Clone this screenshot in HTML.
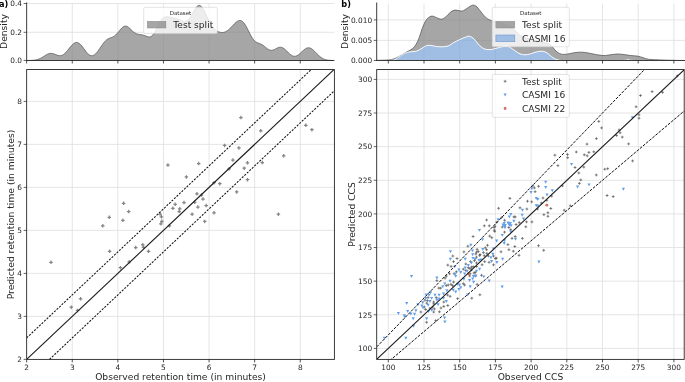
<!DOCTYPE html>
<html lang="en"><head><meta charset="utf-8"><title>Predicted vs observed retention time and CCS</title>
<style>html,body{margin:0;padding:0;background:#fff;overflow:hidden}svg{display:block;will-change:transform;opacity:0.999}</style>
</head><body>
<svg width="685" height="382" viewBox="0 0 685 382" font-family="'DejaVu Sans', 'Liberation Sans', sans-serif">
<rect width="685" height="382" fill="#ffffff"/>
<defs>
<clipPath id="ca"><rect x="26.65" y="69.55" width="307.75" height="289.85"/></clipPath>
<clipPath id="cb"><rect x="376.7" y="69.55" width="307.5" height="289.85"/></clipPath>
<g id="mp"><path d="M-1.75,0H1.75M0,-1.75V1.75" stroke="#858585" stroke-width="1.25" fill="none"/></g>
<g id="mq"><path d="M-1.4,0H1.4M0,-1.4V1.4" stroke="#585858" stroke-width="0.72" fill="none"/></g>
<path id="mv" d="M-1.6,-1.3H1.6L0,1.65Z" fill="#639fe6"/>
<circle id="mo" r="1.4" fill="#d46c62"/>
</defs>
<g id="panel-a">
<line x1="72.25" y1="69.55" x2="72.25" y2="359.4" stroke="#dedede" stroke-width="0.8" />
<line x1="72.25" y1="3.5" x2="72.25" y2="60.5" stroke="#dedede" stroke-width="0.8" />
<line x1="117.85" y1="69.55" x2="117.85" y2="359.4" stroke="#dedede" stroke-width="0.8" />
<line x1="117.85" y1="3.5" x2="117.85" y2="60.5" stroke="#dedede" stroke-width="0.8" />
<line x1="163.45" y1="69.55" x2="163.45" y2="359.4" stroke="#dedede" stroke-width="0.8" />
<line x1="163.45" y1="3.5" x2="163.45" y2="60.5" stroke="#dedede" stroke-width="0.8" />
<line x1="209.05" y1="69.55" x2="209.05" y2="359.4" stroke="#dedede" stroke-width="0.8" />
<line x1="209.05" y1="3.5" x2="209.05" y2="60.5" stroke="#dedede" stroke-width="0.8" />
<line x1="254.65" y1="69.55" x2="254.65" y2="359.4" stroke="#dedede" stroke-width="0.8" />
<line x1="254.65" y1="3.5" x2="254.65" y2="60.5" stroke="#dedede" stroke-width="0.8" />
<line x1="300.25" y1="69.55" x2="300.25" y2="359.4" stroke="#dedede" stroke-width="0.8" />
<line x1="300.25" y1="3.5" x2="300.25" y2="60.5" stroke="#dedede" stroke-width="0.8" />
<line x1="26.65" y1="316.4" x2="334.4" y2="316.4" stroke="#dedede" stroke-width="0.8" />
<line x1="26.65" y1="273.4" x2="334.4" y2="273.4" stroke="#dedede" stroke-width="0.8" />
<line x1="26.65" y1="230.4" x2="334.4" y2="230.4" stroke="#dedede" stroke-width="0.8" />
<line x1="26.65" y1="187.4" x2="334.4" y2="187.4" stroke="#dedede" stroke-width="0.8" />
<line x1="26.65" y1="144.4" x2="334.4" y2="144.4" stroke="#dedede" stroke-width="0.8" />
<line x1="26.65" y1="101.4" x2="334.4" y2="101.4" stroke="#dedede" stroke-width="0.8" />
<line x1="26.65" y1="3.5" x2="334.4" y2="3.5" stroke="#dedede" stroke-width="0.8" />
<line x1="26.65" y1="32.3" x2="334.4" y2="32.3" stroke="#dedede" stroke-width="0.8" />
<path d="M26.65,60.49 L27.65,60.48 L28.65,60.47 L29.65,60.45 L30.65,60.42 L31.65,60.38 L32.65,60.32 L33.65,60.23 L34.65,60.11 L35.65,59.94 L36.65,59.73 L37.65,59.45 L38.65,59.11 L39.65,58.7 L40.65,58.22 L41.65,57.68 L42.65,57.09 L43.65,56.46 L44.65,55.82 L45.65,55.19 L46.65,54.62 L47.65,54.13 L48.65,53.74 L49.65,53.49 L50.65,53.37 L51.65,53.4 L52.65,53.57 L53.65,53.84 L54.65,54.2 L55.65,54.59 L56.65,54.98 L57.65,55.32 L58.65,55.57 L59.65,55.68 L60.65,55.64 L61.65,55.41 L62.65,54.99 L63.65,54.38 L64.65,53.58 L65.65,52.62 L66.65,51.53 L67.65,50.34 L68.65,49.08 L69.65,47.82 L70.65,46.59 L71.65,45.44 L72.65,44.42 L73.65,43.58 L74.65,42.95 L75.65,42.57 L76.65,42.46 L77.65,42.62 L78.65,43.07 L79.65,43.77 L80.65,44.71 L81.65,45.84 L82.65,47.11 L83.65,48.47 L84.65,49.85 L85.65,51.19 L86.65,52.43 L87.65,53.53 L88.65,54.44 L89.65,55.12 L90.65,55.56 L91.65,55.73 L92.65,55.63 L93.65,55.27 L94.65,54.66 L95.65,53.81 L96.65,52.75 L97.65,51.52 L98.65,50.15 L99.65,48.69 L100.65,47.19 L101.65,45.69 L102.65,44.24 L103.65,42.9 L104.65,41.7 L105.65,40.67 L106.65,39.81 L107.65,39.12 L108.65,38.59 L109.65,38.17 L110.65,37.81 L111.65,37.46 L112.65,37.05 L113.65,36.54 L114.65,35.88 L115.65,35.05 L116.65,34.06 L117.65,32.93 L118.65,31.7 L119.65,30.45 L120.65,29.24 L121.65,28.14 L122.65,27.24 L123.65,26.57 L124.65,26.19 L125.65,26.11 L126.65,26.31 L127.65,26.78 L128.65,27.47 L129.65,28.32 L130.65,29.27 L131.65,30.24 L132.65,31.18 L133.65,32.04 L134.65,32.78 L135.65,33.37 L136.65,33.82 L137.65,34.13 L138.65,34.34 L139.65,34.49 L140.65,34.62 L141.65,34.77 L142.65,34.98 L143.65,35.25 L144.65,35.59 L145.65,35.98 L146.65,36.37 L147.65,36.71 L148.65,36.92 L149.65,36.94 L150.65,36.69 L151.65,36.13 L152.65,35.22 L153.65,33.98 L154.65,32.42 L155.65,30.62 L156.65,28.64 L157.65,26.6 L158.65,24.58 L159.65,22.69 L160.65,21.01 L161.65,19.59 L162.65,18.47 L163.65,17.65 L164.65,17.11 L165.65,16.81 L166.65,16.71 L167.65,16.76 L168.65,16.9 L169.65,17.1 L170.65,17.32 L171.65,17.55 L172.65,17.78 L173.65,18.01 L174.65,18.25 L175.65,18.53 L176.65,18.84 L177.65,19.19 L178.65,19.59 L179.65,20.02 L180.65,20.46 L181.65,20.88 L182.65,21.23 L183.65,21.47 L184.65,21.55 L185.65,21.42 L186.65,21.03 L187.65,20.36 L188.65,19.4 L189.65,18.15 L190.65,16.66 L191.65,14.97 L192.65,13.17 L193.65,11.35 L194.65,9.62 L195.65,8.06 L196.65,6.8 L197.65,5.9 L198.65,5.42 L199.65,5.41 L200.65,5.88 L201.65,6.8 L202.65,8.13 L203.65,9.8 L204.65,11.74 L205.65,13.84 L206.65,16.02 L207.65,18.19 L208.65,20.28 L209.65,22.24 L210.65,24.02 L211.65,25.6 L212.65,26.99 L213.65,28.18 L214.65,29.2 L215.65,30.06 L216.65,30.77 L217.65,31.36 L218.65,31.82 L219.65,32.18 L220.65,32.41 L221.65,32.53 L222.65,32.52 L223.65,32.38 L224.65,32.11 L225.65,31.7 L226.65,31.16 L227.65,30.48 L228.65,29.69 L229.65,28.79 L230.65,27.81 L231.65,26.77 L232.65,25.69 L233.65,24.62 L234.65,23.58 L235.65,22.62 L236.65,21.79 L237.65,21.13 L238.65,20.67 L239.65,20.47 L240.65,20.55 L241.65,20.93 L242.65,21.64 L243.65,22.66 L244.65,23.98 L245.65,25.56 L246.65,27.36 L247.65,29.31 L248.65,31.33 L249.65,33.34 L250.65,35.26 L251.65,37.03 L252.65,38.58 L253.65,39.89 L254.65,40.94 L255.65,41.76 L256.65,42.37 L257.65,42.84 L258.65,43.22 L259.65,43.59 L260.65,44 L261.65,44.49 L262.65,45.08 L263.65,45.78 L264.65,46.56 L265.65,47.38 L266.65,48.19 L267.65,48.93 L268.65,49.55 L269.65,50 L270.65,50.26 L271.65,50.31 L272.65,50.17 L273.65,49.85 L274.65,49.41 L275.65,48.89 L276.65,48.36 L277.65,47.87 L278.65,47.49 L279.65,47.27 L280.65,47.23 L281.65,47.4 L282.65,47.78 L283.65,48.36 L284.65,49.12 L285.65,50 L286.65,50.97 L287.65,51.98 L288.65,52.98 L289.65,53.91 L290.65,54.73 L291.65,55.4 L292.65,55.9 L293.65,56.2 L294.65,56.29 L295.65,56.18 L296.65,55.85 L297.65,55.34 L298.65,54.67 L299.65,53.86 L300.65,52.96 L301.65,52.01 L302.65,51.06 L303.65,50.16 L304.65,49.35 L305.65,48.67 L306.65,48.17 L307.65,47.87 L308.65,47.78 L309.65,47.92 L310.65,48.27 L311.65,48.83 L312.65,49.55 L313.65,50.42 L314.65,51.38 L315.65,52.4 L316.65,53.45 L317.65,54.47 L318.65,55.44 L319.65,56.34 L320.65,57.14 L321.65,57.84 L322.65,58.44 L323.65,58.94 L324.65,59.34 L325.65,59.65 L326.65,59.9 L327.65,60.08 L328.65,60.21 L329.65,60.31 L330.65,60.37 L331.65,60.42 L332.65,60.45 L333.65,60.47 L334.4,60.5 L26.65,60.5Z" fill="#808080" fill-opacity="0.7" stroke="none"/>
<path d="M26.65,60.49 L27.65,60.48 L28.65,60.47 L29.65,60.45 L30.65,60.42 L31.65,60.38 L32.65,60.32 L33.65,60.23 L34.65,60.11 L35.65,59.94 L36.65,59.73 L37.65,59.45 L38.65,59.11 L39.65,58.7 L40.65,58.22 L41.65,57.68 L42.65,57.09 L43.65,56.46 L44.65,55.82 L45.65,55.19 L46.65,54.62 L47.65,54.13 L48.65,53.74 L49.65,53.49 L50.65,53.37 L51.65,53.4 L52.65,53.57 L53.65,53.84 L54.65,54.2 L55.65,54.59 L56.65,54.98 L57.65,55.32 L58.65,55.57 L59.65,55.68 L60.65,55.64 L61.65,55.41 L62.65,54.99 L63.65,54.38 L64.65,53.58 L65.65,52.62 L66.65,51.53 L67.65,50.34 L68.65,49.08 L69.65,47.82 L70.65,46.59 L71.65,45.44 L72.65,44.42 L73.65,43.58 L74.65,42.95 L75.65,42.57 L76.65,42.46 L77.65,42.62 L78.65,43.07 L79.65,43.77 L80.65,44.71 L81.65,45.84 L82.65,47.11 L83.65,48.47 L84.65,49.85 L85.65,51.19 L86.65,52.43 L87.65,53.53 L88.65,54.44 L89.65,55.12 L90.65,55.56 L91.65,55.73 L92.65,55.63 L93.65,55.27 L94.65,54.66 L95.65,53.81 L96.65,52.75 L97.65,51.52 L98.65,50.15 L99.65,48.69 L100.65,47.19 L101.65,45.69 L102.65,44.24 L103.65,42.9 L104.65,41.7 L105.65,40.67 L106.65,39.81 L107.65,39.12 L108.65,38.59 L109.65,38.17 L110.65,37.81 L111.65,37.46 L112.65,37.05 L113.65,36.54 L114.65,35.88 L115.65,35.05 L116.65,34.06 L117.65,32.93 L118.65,31.7 L119.65,30.45 L120.65,29.24 L121.65,28.14 L122.65,27.24 L123.65,26.57 L124.65,26.19 L125.65,26.11 L126.65,26.31 L127.65,26.78 L128.65,27.47 L129.65,28.32 L130.65,29.27 L131.65,30.24 L132.65,31.18 L133.65,32.04 L134.65,32.78 L135.65,33.37 L136.65,33.82 L137.65,34.13 L138.65,34.34 L139.65,34.49 L140.65,34.62 L141.65,34.77 L142.65,34.98 L143.65,35.25 L144.65,35.59 L145.65,35.98 L146.65,36.37 L147.65,36.71 L148.65,36.92 L149.65,36.94 L150.65,36.69 L151.65,36.13 L152.65,35.22 L153.65,33.98 L154.65,32.42 L155.65,30.62 L156.65,28.64 L157.65,26.6 L158.65,24.58 L159.65,22.69 L160.65,21.01 L161.65,19.59 L162.65,18.47 L163.65,17.65 L164.65,17.11 L165.65,16.81 L166.65,16.71 L167.65,16.76 L168.65,16.9 L169.65,17.1 L170.65,17.32 L171.65,17.55 L172.65,17.78 L173.65,18.01 L174.65,18.25 L175.65,18.53 L176.65,18.84 L177.65,19.19 L178.65,19.59 L179.65,20.02 L180.65,20.46 L181.65,20.88 L182.65,21.23 L183.65,21.47 L184.65,21.55 L185.65,21.42 L186.65,21.03 L187.65,20.36 L188.65,19.4 L189.65,18.15 L190.65,16.66 L191.65,14.97 L192.65,13.17 L193.65,11.35 L194.65,9.62 L195.65,8.06 L196.65,6.8 L197.65,5.9 L198.65,5.42 L199.65,5.41 L200.65,5.88 L201.65,6.8 L202.65,8.13 L203.65,9.8 L204.65,11.74 L205.65,13.84 L206.65,16.02 L207.65,18.19 L208.65,20.28 L209.65,22.24 L210.65,24.02 L211.65,25.6 L212.65,26.99 L213.65,28.18 L214.65,29.2 L215.65,30.06 L216.65,30.77 L217.65,31.36 L218.65,31.82 L219.65,32.18 L220.65,32.41 L221.65,32.53 L222.65,32.52 L223.65,32.38 L224.65,32.11 L225.65,31.7 L226.65,31.16 L227.65,30.48 L228.65,29.69 L229.65,28.79 L230.65,27.81 L231.65,26.77 L232.65,25.69 L233.65,24.62 L234.65,23.58 L235.65,22.62 L236.65,21.79 L237.65,21.13 L238.65,20.67 L239.65,20.47 L240.65,20.55 L241.65,20.93 L242.65,21.64 L243.65,22.66 L244.65,23.98 L245.65,25.56 L246.65,27.36 L247.65,29.31 L248.65,31.33 L249.65,33.34 L250.65,35.26 L251.65,37.03 L252.65,38.58 L253.65,39.89 L254.65,40.94 L255.65,41.76 L256.65,42.37 L257.65,42.84 L258.65,43.22 L259.65,43.59 L260.65,44 L261.65,44.49 L262.65,45.08 L263.65,45.78 L264.65,46.56 L265.65,47.38 L266.65,48.19 L267.65,48.93 L268.65,49.55 L269.65,50 L270.65,50.26 L271.65,50.31 L272.65,50.17 L273.65,49.85 L274.65,49.41 L275.65,48.89 L276.65,48.36 L277.65,47.87 L278.65,47.49 L279.65,47.27 L280.65,47.23 L281.65,47.4 L282.65,47.78 L283.65,48.36 L284.65,49.12 L285.65,50 L286.65,50.97 L287.65,51.98 L288.65,52.98 L289.65,53.91 L290.65,54.73 L291.65,55.4 L292.65,55.9 L293.65,56.2 L294.65,56.29 L295.65,56.18 L296.65,55.85 L297.65,55.34 L298.65,54.67 L299.65,53.86 L300.65,52.96 L301.65,52.01 L302.65,51.06 L303.65,50.16 L304.65,49.35 L305.65,48.67 L306.65,48.17 L307.65,47.87 L308.65,47.78 L309.65,47.92 L310.65,48.27 L311.65,48.83 L312.65,49.55 L313.65,50.42 L314.65,51.38 L315.65,52.4 L316.65,53.45 L317.65,54.47 L318.65,55.44 L319.65,56.34 L320.65,57.14 L321.65,57.84 L322.65,58.44 L323.65,58.94 L324.65,59.34 L325.65,59.65 L326.65,59.9 L327.65,60.08 L328.65,60.21 L329.65,60.31 L330.65,60.37 L331.65,60.42 L332.65,60.45 L333.65,60.47" fill="none" stroke="#5a5a5a" stroke-width="0.8"/>
<line x1="26.65" y1="2.5" x2="26.65" y2="60.9" stroke="#262626" stroke-width="0.9" />
<line x1="26.25" y1="60.5" x2="334.4" y2="60.5" stroke="#262626" stroke-width="0.9" />
<line x1="26.65" y1="60.5" x2="26.65" y2="63.5" stroke="#262626" stroke-width="0.8" />
<line x1="72.25" y1="60.5" x2="72.25" y2="63.5" stroke="#262626" stroke-width="0.8" />
<line x1="117.85" y1="60.5" x2="117.85" y2="63.5" stroke="#262626" stroke-width="0.8" />
<line x1="163.45" y1="60.5" x2="163.45" y2="63.5" stroke="#262626" stroke-width="0.8" />
<line x1="209.05" y1="60.5" x2="209.05" y2="63.5" stroke="#262626" stroke-width="0.8" />
<line x1="254.65" y1="60.5" x2="254.65" y2="63.5" stroke="#262626" stroke-width="0.8" />
<line x1="300.25" y1="60.5" x2="300.25" y2="63.5" stroke="#262626" stroke-width="0.8" />
<line x1="23.65" y1="3.5" x2="26.65" y2="3.5" stroke="#262626" stroke-width="0.7" />
<text x="22.05" y="6.3" font-size="7.4" text-anchor="end" fill="#262626" >0.4</text>
<line x1="23.65" y1="32.3" x2="26.65" y2="32.3" stroke="#262626" stroke-width="0.7" />
<text x="22.05" y="35.1" font-size="7.4" text-anchor="end" fill="#262626" >0.2</text>
<line x1="23.65" y1="60.4" x2="26.65" y2="60.4" stroke="#262626" stroke-width="0.7" />
<text x="22.05" y="63.2" font-size="7.4" text-anchor="end" fill="#262626" >0.0</text>
<text transform="translate(7.3,31.5) rotate(-90)" font-size="9.17" text-anchor="middle" fill="#262626">Density</text>
<rect x="143.7" y="7.3" width="73.6" height="26.3" rx="1.6" fill="#ffffff" fill-opacity="0.8" stroke="#cccccc" stroke-opacity="0.8" stroke-width="0.7"/>
<text x="180.5" y="15.15" font-size="5.46" text-anchor="middle" fill="#262626" >Dataset</text>
<rect x="147.3" y="21.3" width="18.6" height="6.7" fill="#808080" fill-opacity="0.7" stroke="#8a8a8a" stroke-width="0.5"/>
<text x="173.3" y="28" font-size="9.1" text-anchor="start" fill="#262626" >Test split</text>
<g clip-path="url(#ca)">
<use href="#mp" x="51" y="262.35"/>
<use href="#mp" x="71.3" y="307.15"/>
<use href="#mp" x="80.6" y="298.85"/>
<use href="#mp" x="77.6" y="310.45"/>
<use href="#mp" x="102.8" y="225.85"/>
<use href="#mp" x="109.3" y="217.35"/>
<use href="#mp" x="109.6" y="251.25"/>
<use href="#mp" x="123.6" y="203.25"/>
<use href="#mp" x="128.7" y="211.55"/>
<use href="#mp" x="122.9" y="220.35"/>
<use href="#mp" x="120.4" y="267.65"/>
<use href="#mp" x="129.2" y="261.85"/>
<use href="#mp" x="135.7" y="247.55"/>
<use href="#mp" x="142.8" y="244.75"/>
<use href="#mp" x="143.5" y="247.25"/>
<use href="#mp" x="148.5" y="251.25"/>
<use href="#mp" x="160.1" y="214.05"/>
<use href="#mp" x="161.4" y="216.85"/>
<use href="#mp" x="161.9" y="221.35"/>
<use href="#mp" x="160.9" y="223.85"/>
<use href="#mp" x="169.4" y="225.85"/>
<use href="#mp" x="172.9" y="208.25"/>
<use href="#mp" x="175.2" y="204.25"/>
<use href="#mp" x="179.7" y="208.75"/>
<use href="#mp" x="179.2" y="211.55"/>
<use href="#mp" x="184" y="202.55"/>
<use href="#mp" x="192.1" y="214.15"/>
<use href="#mp" x="167.9" y="165.05"/>
<use href="#mp" x="186.4" y="176.95"/>
<use href="#mp" x="198.7" y="163.55"/>
<use href="#mp" x="232.9" y="160.05"/>
<use href="#mp" x="229.1" y="168.85"/>
<use href="#mp" x="247.5" y="162.85"/>
<use href="#mp" x="244.2" y="168.15"/>
<use href="#mp" x="262.3" y="162.55"/>
<use href="#mp" x="283.7" y="155.75"/>
<use href="#mp" x="247.5" y="179.65"/>
<use href="#mp" x="214" y="182.65"/>
<use href="#mp" x="219.8" y="183.65"/>
<use href="#mp" x="236.7" y="191.95"/>
<use href="#mp" x="196.9" y="193.75"/>
<use href="#mp" x="201.5" y="195.05"/>
<use href="#mp" x="203" y="199.05"/>
<use href="#mp" x="206.2" y="205.55"/>
<use href="#mp" x="194.7" y="202.25"/>
<use href="#mp" x="197.9" y="207.05"/>
<use href="#mp" x="214" y="212.85"/>
<use href="#mp" x="204.7" y="221.45"/>
<use href="#mp" x="278.4" y="214.15"/>
<use href="#mp" x="240.9" y="117.55"/>
<use href="#mp" x="260.8" y="130.85"/>
<use href="#mp" x="305.8" y="125.35"/>
<use href="#mp" x="311.9" y="129.65"/>
<use href="#mp" x="224.6" y="145.45"/>
<use href="#mp" x="238.9" y="147.95"/>
<line x1="26.65" y1="359.4" x2="334.45" y2="69.15" stroke="#1a1a1a" stroke-width="1.1" />
<line x1="26.65" y1="337.9" x2="334.45" y2="47.65" stroke="#111" stroke-width="1.05" stroke-dasharray="2.1 1.335"/>
<line x1="49.45" y1="359.4" x2="357.25" y2="69.15" stroke="#111" stroke-width="1.05" stroke-dasharray="2.1 1.335"/>
</g>
<rect x="26.65" y="69.55" width="307.75" height="289.85" fill="none" stroke="#262626" stroke-width="0.9"/>
<line x1="26.65" y1="359.4" x2="26.65" y2="362.4" stroke="#262626" stroke-width="0.8" />
<text x="26.65" y="369.75" font-size="7.4" text-anchor="middle" fill="#262626" >2</text>
<line x1="23.65" y1="359.4" x2="26.65" y2="359.4" stroke="#262626" stroke-width="0.7" />
<text x="22.05" y="362.2" font-size="7.4" text-anchor="end" fill="#262626" >2</text>
<line x1="72.25" y1="359.4" x2="72.25" y2="362.4" stroke="#262626" stroke-width="0.8" />
<text x="72.25" y="369.75" font-size="7.4" text-anchor="middle" fill="#262626" >3</text>
<line x1="23.65" y1="316.4" x2="26.65" y2="316.4" stroke="#262626" stroke-width="0.7" />
<text x="22.05" y="319.2" font-size="7.4" text-anchor="end" fill="#262626" >3</text>
<line x1="117.85" y1="359.4" x2="117.85" y2="362.4" stroke="#262626" stroke-width="0.8" />
<text x="117.85" y="369.75" font-size="7.4" text-anchor="middle" fill="#262626" >4</text>
<line x1="23.65" y1="273.4" x2="26.65" y2="273.4" stroke="#262626" stroke-width="0.7" />
<text x="22.05" y="276.2" font-size="7.4" text-anchor="end" fill="#262626" >4</text>
<line x1="163.45" y1="359.4" x2="163.45" y2="362.4" stroke="#262626" stroke-width="0.8" />
<text x="163.45" y="369.75" font-size="7.4" text-anchor="middle" fill="#262626" >5</text>
<line x1="23.65" y1="230.4" x2="26.65" y2="230.4" stroke="#262626" stroke-width="0.7" />
<text x="22.05" y="233.2" font-size="7.4" text-anchor="end" fill="#262626" >5</text>
<line x1="209.05" y1="359.4" x2="209.05" y2="362.4" stroke="#262626" stroke-width="0.8" />
<text x="209.05" y="369.75" font-size="7.4" text-anchor="middle" fill="#262626" >6</text>
<line x1="23.65" y1="187.4" x2="26.65" y2="187.4" stroke="#262626" stroke-width="0.7" />
<text x="22.05" y="190.2" font-size="7.4" text-anchor="end" fill="#262626" >6</text>
<line x1="254.65" y1="359.4" x2="254.65" y2="362.4" stroke="#262626" stroke-width="0.8" />
<text x="254.65" y="369.75" font-size="7.4" text-anchor="middle" fill="#262626" >7</text>
<line x1="23.65" y1="144.4" x2="26.65" y2="144.4" stroke="#262626" stroke-width="0.7" />
<text x="22.05" y="147.2" font-size="7.4" text-anchor="end" fill="#262626" >7</text>
<line x1="300.25" y1="359.4" x2="300.25" y2="362.4" stroke="#262626" stroke-width="0.8" />
<text x="300.25" y="369.75" font-size="7.4" text-anchor="middle" fill="#262626" >8</text>
<line x1="23.65" y1="101.4" x2="26.65" y2="101.4" stroke="#262626" stroke-width="0.7" />
<text x="22.05" y="104.2" font-size="7.4" text-anchor="end" fill="#262626" >8</text>
<text x="180.52" y="379.6" font-size="9.17" text-anchor="middle" fill="#262626" >Observed retention time (in minutes)</text>
<text transform="translate(13.8,214.47) rotate(-90)" font-size="9.17" text-anchor="middle" fill="#262626">Predicted retention time (in minutes)</text>
<text x="-1" y="7.1" font-size="8.2" text-anchor="start" fill="#000" font-weight="bold">a)</text>
</g>
<g id="panel-b">
<line x1="388.3" y1="69.55" x2="388.3" y2="359.4" stroke="#dedede" stroke-width="0.8" />
<line x1="388.3" y1="3.5" x2="388.3" y2="60.5" stroke="#dedede" stroke-width="0.8" />
<line x1="376.7" y1="348.4" x2="684.2" y2="348.4" stroke="#dedede" stroke-width="0.8" />
<line x1="424" y1="69.55" x2="424" y2="359.4" stroke="#dedede" stroke-width="0.8" />
<line x1="424" y1="3.5" x2="424" y2="60.5" stroke="#dedede" stroke-width="0.8" />
<line x1="376.7" y1="314.77" x2="684.2" y2="314.77" stroke="#dedede" stroke-width="0.8" />
<line x1="459.7" y1="69.55" x2="459.7" y2="359.4" stroke="#dedede" stroke-width="0.8" />
<line x1="459.7" y1="3.5" x2="459.7" y2="60.5" stroke="#dedede" stroke-width="0.8" />
<line x1="376.7" y1="281.15" x2="684.2" y2="281.15" stroke="#dedede" stroke-width="0.8" />
<line x1="495.4" y1="69.55" x2="495.4" y2="359.4" stroke="#dedede" stroke-width="0.8" />
<line x1="495.4" y1="3.5" x2="495.4" y2="60.5" stroke="#dedede" stroke-width="0.8" />
<line x1="376.7" y1="247.52" x2="684.2" y2="247.52" stroke="#dedede" stroke-width="0.8" />
<line x1="531.1" y1="69.55" x2="531.1" y2="359.4" stroke="#dedede" stroke-width="0.8" />
<line x1="531.1" y1="3.5" x2="531.1" y2="60.5" stroke="#dedede" stroke-width="0.8" />
<line x1="376.7" y1="213.9" x2="684.2" y2="213.9" stroke="#dedede" stroke-width="0.8" />
<line x1="566.8" y1="69.55" x2="566.8" y2="359.4" stroke="#dedede" stroke-width="0.8" />
<line x1="566.8" y1="3.5" x2="566.8" y2="60.5" stroke="#dedede" stroke-width="0.8" />
<line x1="376.7" y1="180.27" x2="684.2" y2="180.27" stroke="#dedede" stroke-width="0.8" />
<line x1="602.5" y1="69.55" x2="602.5" y2="359.4" stroke="#dedede" stroke-width="0.8" />
<line x1="602.5" y1="3.5" x2="602.5" y2="60.5" stroke="#dedede" stroke-width="0.8" />
<line x1="376.7" y1="146.65" x2="684.2" y2="146.65" stroke="#dedede" stroke-width="0.8" />
<line x1="638.2" y1="69.55" x2="638.2" y2="359.4" stroke="#dedede" stroke-width="0.8" />
<line x1="638.2" y1="3.5" x2="638.2" y2="60.5" stroke="#dedede" stroke-width="0.8" />
<line x1="376.7" y1="113.02" x2="684.2" y2="113.02" stroke="#dedede" stroke-width="0.8" />
<line x1="673.9" y1="69.55" x2="673.9" y2="359.4" stroke="#dedede" stroke-width="0.8" />
<line x1="673.9" y1="3.5" x2="673.9" y2="60.5" stroke="#dedede" stroke-width="0.8" />
<line x1="376.7" y1="79.4" x2="684.2" y2="79.4" stroke="#dedede" stroke-width="0.8" />
<line x1="376.7" y1="19.9" x2="685" y2="19.9" stroke="#dedede" stroke-width="0.8" />
<line x1="376.7" y1="40.4" x2="685" y2="40.4" stroke="#dedede" stroke-width="0.8" />
<path d="M376.7,60.3C378.08,60.27 382.58,60.22 385,60.1C387.42,59.98 389.28,59.97 391.2,59.6C393.12,59.23 394.73,58.68 396.5,57.9C398.27,57.12 400.03,55.92 401.8,54.9C403.57,53.88 405.33,52.82 407.1,51.8C408.87,50.78 410.88,50.07 412.4,48.8C413.92,47.53 415.05,46.1 416.2,44.2C417.35,42.3 418.28,40.05 419.3,37.4C420.32,34.75 421.3,30.95 422.3,28.3C423.3,25.65 424.28,23.27 425.3,21.5C426.32,19.73 427.25,18.6 428.4,17.7C429.55,16.8 430.82,16.1 432.2,16.1C433.58,16.1 435.18,17.18 436.7,17.7C438.22,18.22 439.78,19.33 441.3,19.2C442.82,19.07 444.28,18.05 445.8,16.9C447.32,15.75 448.88,13.43 450.4,12.3C451.92,11.17 453.38,10.35 454.9,10.1C456.42,9.85 458.1,10.68 459.5,10.8C460.9,10.92 462.03,11.22 463.3,10.8C464.57,10.38 465.58,9.23 467.1,8.3C468.62,7.37 470.88,5.53 472.4,5.2C473.92,4.87 474.95,5.42 476.2,6.3C477.45,7.18 478.42,8.73 479.9,10.5C481.38,12.27 483.22,15.2 485.1,16.9C486.98,18.6 488.72,19.68 491.2,20.7C493.68,21.72 497.2,22.2 500,23C502.8,23.8 505.83,24.6 508,25.5C510.17,26.4 511.43,27.15 513,28.4C514.57,29.65 515.9,31.68 517.4,33C518.9,34.32 519.9,35.3 522,36.3C524.1,37.3 527,38.13 530,39C533,39.87 537.33,40.83 540,41.5C542.67,42.17 544.1,42.28 546,43C547.9,43.72 549.97,44.7 551.4,45.8C552.83,46.9 553.55,48.48 554.6,49.6C555.65,50.72 556.55,51.73 557.7,52.5C558.85,53.27 560.03,53.92 561.5,54.2C562.97,54.48 564.62,54.4 566.5,54.2C568.38,54 570.7,53.33 572.8,53C574.9,52.67 577,52.28 579.1,52.2C581.2,52.12 583.3,52.25 585.4,52.5C587.5,52.75 589.4,53.27 591.7,53.7C594,54.13 596.93,54.8 599.2,55.1C601.47,55.4 603.23,55.58 605.3,55.5C607.37,55.42 609.5,54.85 611.6,54.6C613.7,54.35 615.8,54 617.9,54C620,54 622.12,54.35 624.2,54.6C626.28,54.85 628.1,55.23 630.4,55.5C632.7,55.77 635.9,55.83 638,56.2C640.1,56.57 641.32,57.2 643,57.7C644.68,58.2 646,58.87 648.1,59.2C650.2,59.53 652.25,59.53 655.6,59.7C658.95,59.87 663.38,60.07 668.2,60.2C673.02,60.33 681.78,60.45 684.5,60.5 L684.5,60.5C676.42,60.5 645.42,60.62 636,60.5C626.58,60.38 630.67,59.8 628,59.8C625.33,59.8 630.87,60.38 620,60.5C609.13,60.62 572.97,60.55 562.8,60.5C552.63,60.45 560.27,60.45 559,60.2C557.73,59.95 556.47,59.62 555.2,59C553.93,58.38 552.65,57.45 551.4,56.5C550.15,55.55 548.95,54.13 547.7,53.3C546.45,52.47 545.17,51.83 543.9,51.5C542.63,51.17 541.57,51.17 540.1,51.3C538.63,51.43 536.77,51.85 535.1,52.3C533.43,52.75 531.78,53.58 530.1,54C528.42,54.42 526.68,54.83 525,54.8C523.32,54.77 521.58,54.42 520,53.8C518.42,53.18 517.27,52.23 515.5,51.1C513.73,49.97 511.18,47.82 509.4,47C507.62,46.18 506.82,46.03 504.8,46.2C502.78,46.37 499.57,47.45 497.3,48C495.03,48.55 493.23,49.3 491.2,49.5C489.17,49.7 486.92,49.75 485.1,49.2C483.28,48.65 481.73,47.42 480.3,46.2C478.87,44.98 477.68,43.23 476.5,41.9C475.32,40.57 474.38,39.15 473.2,38.2C472.02,37.25 470.67,36.38 469.4,36.2C468.13,36.02 467.25,36.52 465.6,37.1C463.95,37.68 461.53,38.77 459.5,39.7C457.47,40.63 455.17,41.7 453.4,42.7C451.63,43.7 450.67,45.02 448.9,45.7C447.13,46.38 444.83,46.67 442.8,46.8C440.77,46.93 438.98,46.75 436.7,46.5C434.42,46.25 431.12,45.3 429.1,45.3C427.08,45.3 426.12,45.8 424.6,46.5C423.08,47.2 421.52,48.68 420,49.5C418.48,50.32 417.13,51.02 415.5,51.4C413.87,51.78 411.98,51.48 410.2,51.8C408.42,52.12 406.7,52.42 404.8,53.3C402.9,54.18 400.57,56 398.8,57.1C397.03,58.2 396,59.37 394.2,59.9C392.4,60.43 390.92,60.22 388,60.3C385.08,60.38 378.58,60.38 376.7,60.4Z" fill="#808080" fill-opacity="0.7"/>
<path d="M376.7,60.4C378.58,60.38 385.08,60.38 388,60.3C390.92,60.22 392.4,60.43 394.2,59.9C396,59.37 397.03,58.2 398.8,57.1C400.57,56 402.9,54.18 404.8,53.3C406.7,52.42 408.42,52.12 410.2,51.8C411.98,51.48 413.87,51.78 415.5,51.4C417.13,51.02 418.48,50.32 420,49.5C421.52,48.68 423.08,47.2 424.6,46.5C426.12,45.8 427.08,45.3 429.1,45.3C431.12,45.3 434.42,46.25 436.7,46.5C438.98,46.75 440.77,46.93 442.8,46.8C444.83,46.67 447.13,46.38 448.9,45.7C450.67,45.02 451.63,43.7 453.4,42.7C455.17,41.7 457.47,40.63 459.5,39.7C461.53,38.77 463.95,37.68 465.6,37.1C467.25,36.52 468.13,36.02 469.4,36.2C470.67,36.38 472.02,37.25 473.2,38.2C474.38,39.15 475.32,40.57 476.5,41.9C477.68,43.23 478.87,44.98 480.3,46.2C481.73,47.42 483.28,48.65 485.1,49.2C486.92,49.75 489.17,49.7 491.2,49.5C493.23,49.3 495.03,48.55 497.3,48C499.57,47.45 502.78,46.37 504.8,46.2C506.82,46.03 507.62,46.18 509.4,47C511.18,47.82 513.73,49.97 515.5,51.1C517.27,52.23 518.42,53.18 520,53.8C521.58,54.42 523.32,54.77 525,54.8C526.68,54.83 528.42,54.42 530.1,54C531.78,53.58 533.43,52.75 535.1,52.3C536.77,51.85 538.63,51.43 540.1,51.3C541.57,51.17 542.63,51.17 543.9,51.5C545.17,51.83 546.45,52.47 547.7,53.3C548.95,54.13 550.15,55.55 551.4,56.5C552.65,57.45 553.93,58.38 555.2,59C556.47,59.62 557.73,59.95 559,60.2C560.27,60.45 552.63,60.45 562.8,60.5C572.97,60.55 609.13,60.62 620,60.5C630.87,60.38 625.33,59.8 628,59.8C630.67,59.8 626.58,60.38 636,60.5C645.42,60.62 676.42,60.5 684.5,60.5 L684.7,60.5 L376.7,60.5Z" fill="#77a2d8" fill-opacity="0.7"/>
<path d="M376.7,60.3C378.08,60.27 382.58,60.22 385,60.1C387.42,59.98 389.28,59.97 391.2,59.6C393.12,59.23 394.73,58.68 396.5,57.9C398.27,57.12 400.03,55.92 401.8,54.9C403.57,53.88 405.33,52.82 407.1,51.8C408.87,50.78 410.88,50.07 412.4,48.8C413.92,47.53 415.05,46.1 416.2,44.2C417.35,42.3 418.28,40.05 419.3,37.4C420.32,34.75 421.3,30.95 422.3,28.3C423.3,25.65 424.28,23.27 425.3,21.5C426.32,19.73 427.25,18.6 428.4,17.7C429.55,16.8 430.82,16.1 432.2,16.1C433.58,16.1 435.18,17.18 436.7,17.7C438.22,18.22 439.78,19.33 441.3,19.2C442.82,19.07 444.28,18.05 445.8,16.9C447.32,15.75 448.88,13.43 450.4,12.3C451.92,11.17 453.38,10.35 454.9,10.1C456.42,9.85 458.1,10.68 459.5,10.8C460.9,10.92 462.03,11.22 463.3,10.8C464.57,10.38 465.58,9.23 467.1,8.3C468.62,7.37 470.88,5.53 472.4,5.2C473.92,4.87 474.95,5.42 476.2,6.3C477.45,7.18 478.42,8.73 479.9,10.5C481.38,12.27 483.22,15.2 485.1,16.9C486.98,18.6 488.72,19.68 491.2,20.7C493.68,21.72 497.2,22.2 500,23C502.8,23.8 505.83,24.6 508,25.5C510.17,26.4 511.43,27.15 513,28.4C514.57,29.65 515.9,31.68 517.4,33C518.9,34.32 519.9,35.3 522,36.3C524.1,37.3 527,38.13 530,39C533,39.87 537.33,40.83 540,41.5C542.67,42.17 544.1,42.28 546,43C547.9,43.72 549.97,44.7 551.4,45.8C552.83,46.9 553.55,48.48 554.6,49.6C555.65,50.72 556.55,51.73 557.7,52.5C558.85,53.27 560.03,53.92 561.5,54.2C562.97,54.48 564.62,54.4 566.5,54.2C568.38,54 570.7,53.33 572.8,53C574.9,52.67 577,52.28 579.1,52.2C581.2,52.12 583.3,52.25 585.4,52.5C587.5,52.75 589.4,53.27 591.7,53.7C594,54.13 596.93,54.8 599.2,55.1C601.47,55.4 603.23,55.58 605.3,55.5C607.37,55.42 609.5,54.85 611.6,54.6C613.7,54.35 615.8,54 617.9,54C620,54 622.12,54.35 624.2,54.6C626.28,54.85 628.1,55.23 630.4,55.5C632.7,55.77 635.9,55.83 638,56.2C640.1,56.57 641.32,57.2 643,57.7C644.68,58.2 646,58.87 648.1,59.2C650.2,59.53 652.25,59.53 655.6,59.7C658.95,59.87 663.38,60.07 668.2,60.2C673.02,60.33 681.78,60.45 684.5,60.5" fill="none" stroke="#5a5a5a" stroke-width="0.8"/>
<path d="M376.7,60.4C378.58,60.38 385.08,60.38 388,60.3C390.92,60.22 392.4,60.43 394.2,59.9C396,59.37 397.03,58.2 398.8,57.1C400.57,56 402.9,54.18 404.8,53.3C406.7,52.42 408.42,52.12 410.2,51.8C411.98,51.48 413.87,51.78 415.5,51.4C417.13,51.02 418.48,50.32 420,49.5C421.52,48.68 423.08,47.2 424.6,46.5C426.12,45.8 427.08,45.3 429.1,45.3C431.12,45.3 434.42,46.25 436.7,46.5C438.98,46.75 440.77,46.93 442.8,46.8C444.83,46.67 447.13,46.38 448.9,45.7C450.67,45.02 451.63,43.7 453.4,42.7C455.17,41.7 457.47,40.63 459.5,39.7C461.53,38.77 463.95,37.68 465.6,37.1C467.25,36.52 468.13,36.02 469.4,36.2C470.67,36.38 472.02,37.25 473.2,38.2C474.38,39.15 475.32,40.57 476.5,41.9C477.68,43.23 478.87,44.98 480.3,46.2C481.73,47.42 483.28,48.65 485.1,49.2C486.92,49.75 489.17,49.7 491.2,49.5C493.23,49.3 495.03,48.55 497.3,48C499.57,47.45 502.78,46.37 504.8,46.2C506.82,46.03 507.62,46.18 509.4,47C511.18,47.82 513.73,49.97 515.5,51.1C517.27,52.23 518.42,53.18 520,53.8C521.58,54.42 523.32,54.77 525,54.8C526.68,54.83 528.42,54.42 530.1,54C531.78,53.58 533.43,52.75 535.1,52.3C536.77,51.85 538.63,51.43 540.1,51.3C541.57,51.17 542.63,51.17 543.9,51.5C545.17,51.83 546.45,52.47 547.7,53.3C548.95,54.13 550.15,55.55 551.4,56.5C552.65,57.45 553.93,58.38 555.2,59C556.47,59.62 557.73,59.95 559,60.2C560.27,60.45 552.63,60.45 562.8,60.5C572.97,60.55 609.13,60.62 620,60.5C630.87,60.38 625.33,59.8 628,59.8C630.67,59.8 626.58,60.38 636,60.5C645.42,60.62 676.42,60.5 684.5,60.5" fill="none" stroke="#ffffff" stroke-width="0.9"/>
<line x1="376.7" y1="2.5" x2="376.7" y2="60.9" stroke="#262626" stroke-width="0.9" />
<line x1="376.3" y1="60.5" x2="685" y2="60.5" stroke="#262626" stroke-width="0.9" />
<line x1="388.3" y1="60.5" x2="388.3" y2="63.5" stroke="#262626" stroke-width="0.8" />
<line x1="424" y1="60.5" x2="424" y2="63.5" stroke="#262626" stroke-width="0.8" />
<line x1="459.7" y1="60.5" x2="459.7" y2="63.5" stroke="#262626" stroke-width="0.8" />
<line x1="495.4" y1="60.5" x2="495.4" y2="63.5" stroke="#262626" stroke-width="0.8" />
<line x1="531.1" y1="60.5" x2="531.1" y2="63.5" stroke="#262626" stroke-width="0.8" />
<line x1="566.8" y1="60.5" x2="566.8" y2="63.5" stroke="#262626" stroke-width="0.8" />
<line x1="602.5" y1="60.5" x2="602.5" y2="63.5" stroke="#262626" stroke-width="0.8" />
<line x1="638.2" y1="60.5" x2="638.2" y2="63.5" stroke="#262626" stroke-width="0.8" />
<line x1="673.9" y1="60.5" x2="673.9" y2="63.5" stroke="#262626" stroke-width="0.8" />
<line x1="373.7" y1="19.9" x2="376.7" y2="19.9" stroke="#262626" stroke-width="0.7" />
<text x="372.1" y="22.7" font-size="7.4" text-anchor="end" fill="#262626" >0.010</text>
<line x1="373.7" y1="40.4" x2="376.7" y2="40.4" stroke="#262626" stroke-width="0.7" />
<text x="372.1" y="43.2" font-size="7.4" text-anchor="end" fill="#262626" >0.005</text>
<line x1="373.7" y1="60.5" x2="376.7" y2="60.5" stroke="#262626" stroke-width="0.7" />
<text x="372.1" y="63.3" font-size="7.4" text-anchor="end" fill="#262626" >0.000</text>
<text transform="translate(348.3,31.5) rotate(-90)" font-size="9.17" text-anchor="middle" fill="#262626">Density</text>
<rect x="492.2" y="7.3" width="77.1" height="39.5" rx="1.6" fill="#ffffff" fill-opacity="0.8" stroke="#cccccc" stroke-opacity="0.8" stroke-width="0.7"/>
<text x="530.7" y="15.15" font-size="5.46" text-anchor="middle" fill="#262626" >Dataset</text>
<rect x="495.9" y="21.3" width="18.9" height="6.7" fill="#808080" fill-opacity="0.7" stroke="#8a8a8a" stroke-width="0.5"/>
<rect x="495.9" y="35.0" width="18.9" height="6.7" fill="#a0bee4" stroke="#6f97cf" stroke-width="0.6"/>
<text x="522.1" y="28.1" font-size="9.1" text-anchor="start" fill="#262626" >Test split</text>
<text x="522.1" y="41.7" font-size="9.1" text-anchor="start" fill="#262626" >CASMI 16</text>
<g clip-path="url(#cb)">
<use href="#mq" x="426.6" y="322.3"/>
<use href="#mq" x="435.7" y="320.6"/>
<use href="#mq" x="436.9" y="280.6"/>
<use href="#mq" x="438.8" y="288.1"/>
<use href="#mq" x="440.7" y="288.1"/>
<use href="#mq" x="445.1" y="278.1"/>
<use href="#mq" x="446.3" y="276.2"/>
<use href="#mq" x="449.5" y="273.7"/>
<use href="#mq" x="446.3" y="285.6"/>
<use href="#mq" x="448.2" y="285"/>
<use href="#mq" x="451" y="284.4"/>
<use href="#mq" x="452.6" y="285.6"/>
<use href="#mq" x="453.6" y="282.1"/>
<use href="#mq" x="454.1" y="273.7"/>
<use href="#mq" x="456.4" y="271.8"/>
<use href="#mq" x="463.3" y="283.7"/>
<use href="#mq" x="464.6" y="285"/>
<use href="#mq" x="447.6" y="295"/>
<use href="#mq" x="450.1" y="296.3"/>
<use href="#mq" x="457.6" y="298.6"/>
<use href="#mq" x="471.8" y="298.2"/>
<use href="#mq" x="479.9" y="294.8"/>
<use href="#mq" x="477.1" y="284.4"/>
<use href="#mq" x="481.5" y="275.3"/>
<use href="#mq" x="475.2" y="272.4"/>
<use href="#mq" x="443.8" y="302"/>
<use href="#mq" x="447.8" y="305.5"/>
<use href="#mq" x="443.8" y="306.4"/>
<use href="#mq" x="441" y="308"/>
<use href="#mq" x="439.4" y="311.8"/>
<use href="#mq" x="433.7" y="312"/>
<use href="#mq" x="434.4" y="308.9"/>
<use href="#mq" x="430" y="308.3"/>
<use href="#mq" x="425.6" y="309.5"/>
<use href="#mq" x="424.3" y="307"/>
<use href="#mq" x="420.9" y="312"/>
<use href="#mq" x="426.8" y="303.2"/>
<use href="#mq" x="433.7" y="302"/>
<use href="#mq" x="433.7" y="303.8"/>
<use href="#mq" x="432.5" y="307"/>
<use href="#mq" x="424.9" y="300.1"/>
<use href="#mq" x="428.1" y="297.6"/>
<use href="#mq" x="427.4" y="300.7"/>
<use href="#mq" x="436.3" y="297.6"/>
<use href="#mq" x="465.8" y="270.5"/>
<use href="#mq" x="471.5" y="269.9"/>
<use href="#mq" x="470.2" y="273.7"/>
<use href="#mq" x="474" y="273"/>
<use href="#mq" x="484.3" y="225.8"/>
<use href="#mq" x="489.3" y="225.8"/>
<use href="#mq" x="473.1" y="236.5"/>
<use href="#mq" x="467.9" y="246.2"/>
<use href="#mq" x="463.9" y="251.9"/>
<use href="#mq" x="452.8" y="256"/>
<use href="#mq" x="457" y="258.5"/>
<use href="#mq" x="453.5" y="261.6"/>
<use href="#mq" x="447.8" y="265.1"/>
<use href="#mq" x="451.1" y="266.4"/>
<use href="#mq" x="495" y="226.4"/>
<use href="#mq" x="494.3" y="230.2"/>
<use href="#mq" x="489.7" y="236.1"/>
<use href="#mq" x="491.8" y="237.7"/>
<use href="#mq" x="487.5" y="245.3"/>
<use href="#mq" x="485.3" y="247.8"/>
<use href="#mq" x="477.1" y="249.4"/>
<use href="#mq" x="476.5" y="252.2"/>
<use href="#mq" x="480" y="254.5"/>
<use href="#mq" x="483.4" y="252.6"/>
<use href="#mq" x="484.3" y="255.7"/>
<use href="#mq" x="486.8" y="253.4"/>
<use href="#mq" x="488.4" y="256"/>
<use href="#mq" x="493.5" y="256"/>
<use href="#mq" x="495.3" y="258.5"/>
<use href="#mq" x="484.7" y="261.6"/>
<use href="#mq" x="489.1" y="262.3"/>
<use href="#mq" x="493.5" y="264.8"/>
<use href="#mq" x="482.1" y="264.8"/>
<use href="#mq" x="476.5" y="262.9"/>
<use href="#mq" x="473.3" y="266.7"/>
<use href="#mq" x="469.9" y="268.5"/>
<use href="#mq" x="501" y="251.8"/>
<use href="#mq" x="507.9" y="244.6"/>
<use href="#mq" x="508.9" y="249.7"/>
<use href="#mq" x="513.3" y="251.2"/>
<use href="#mq" x="514.8" y="246.5"/>
<use href="#mq" x="519" y="255.3"/>
<use href="#mq" x="522.4" y="238.4"/>
<use href="#mq" x="515.2" y="236.5"/>
<use href="#mq" x="512" y="238.4"/>
<use href="#mq" x="504.5" y="232.1"/>
<use href="#mq" x="502.3" y="227"/>
<use href="#mq" x="516.1" y="224.5"/>
<use href="#mq" x="519.2" y="222.6"/>
<use href="#mq" x="525.8" y="226.8"/>
<use href="#mq" x="476.5" y="257.2"/>
<use href="#mq" x="463.3" y="269.2"/>
<use href="#mq" x="509.9" y="198.4"/>
<use href="#mq" x="498.6" y="208.3"/>
<use href="#mq" x="486.6" y="220"/>
<use href="#mq" x="504.6" y="220.3"/>
<use href="#mq" x="513.9" y="216.9"/>
<use href="#mq" x="515.2" y="216.9"/>
<use href="#mq" x="520" y="207.8"/>
<use href="#mq" x="526.9" y="209"/>
<use href="#mq" x="527.5" y="201.2"/>
<use href="#mq" x="531.7" y="201.8"/>
<use href="#mq" x="532.9" y="185.8"/>
<use href="#mq" x="534.4" y="187.9"/>
<use href="#mq" x="538.6" y="186.3"/>
<use href="#mq" x="535.1" y="191.7"/>
<use href="#mq" x="543" y="198"/>
<use href="#mq" x="546.8" y="200.3"/>
<use href="#mq" x="541.3" y="203"/>
<use href="#mq" x="537.6" y="209"/>
<use href="#mq" x="550.8" y="208.5"/>
<use href="#mq" x="547.9" y="212.7"/>
<use href="#mq" x="543.9" y="214.7"/>
<use href="#mq" x="547.9" y="216.3"/>
<use href="#mq" x="551.7" y="196.1"/>
<use href="#mq" x="562.4" y="185.8"/>
<use href="#mq" x="570.3" y="205.8"/>
<use href="#mq" x="564.2" y="210.2"/>
<use href="#mq" x="531.9" y="221.9"/>
<use href="#mq" x="526.5" y="221.9"/>
<use href="#mq" x="496.7" y="222.3"/>
<use href="#mq" x="501.7" y="217.5"/>
<use href="#mq" x="596.4" y="138.6"/>
<use href="#mq" x="587" y="144.1"/>
<use href="#mq" x="576.3" y="152"/>
<use href="#mq" x="588.9" y="152.4"/>
<use href="#mq" x="593.8" y="151.8"/>
<use href="#mq" x="584.3" y="154.8"/>
<use href="#mq" x="587.2" y="155.8"/>
<use href="#mq" x="554.9" y="155.2"/>
<use href="#mq" x="567.5" y="154.5"/>
<use href="#mq" x="567.7" y="157.7"/>
<use href="#mq" x="557.9" y="165.6"/>
<use href="#mq" x="575" y="167.5"/>
<use href="#mq" x="583.8" y="167.1"/>
<use href="#mq" x="578.8" y="173"/>
<use href="#mq" x="596.3" y="175"/>
<use href="#mq" x="604.8" y="169.2"/>
<use href="#mq" x="607.7" y="168.7"/>
<use href="#mq" x="652.1" y="91.6"/>
<use href="#mq" x="662.6" y="92.4"/>
<use href="#mq" x="640.5" y="95.5"/>
<use href="#mq" x="636.1" y="106.8"/>
<use href="#mq" x="639" y="114.8"/>
<use href="#mq" x="639" y="118.2"/>
<use href="#mq" x="598.8" y="121.4"/>
<use href="#mq" x="601.6" y="127.9"/>
<use href="#mq" x="677.3" y="75.9"/>
<use href="#mq" x="619.1" y="130"/>
<use href="#mq" x="620.1" y="132.8"/>
<use href="#mq" x="616.6" y="135.5"/>
<use href="#mq" x="622.3" y="137.1"/>
<use href="#mq" x="628.6" y="143.9"/>
<use href="#mq" x="632.6" y="160.9"/>
<use href="#mq" x="580.8" y="179.9"/>
<use href="#mq" x="579.4" y="183.4"/>
<use href="#mq" x="607.1" y="195.5"/>
<use href="#mq" x="613.2" y="196.6"/>
<use href="#mq" x="538.5" y="245.7"/>
<use href="#mq" x="543.7" y="250.3"/>
<use href="#mq" x="465.8" y="264"/>
<use href="#mq" x="468.3" y="267.7"/>
<use href="#mq" x="471.5" y="267.1"/>
<use href="#mq" x="476.5" y="266.5"/>
<use href="#mq" x="469.6" y="275.9"/>
<use href="#mq" x="475.2" y="275.9"/>
<use href="#mq" x="486.6" y="249.7"/>
<use href="#mq" x="478.3" y="251.5"/>
<use href="#mq" x="475.8" y="254"/>
<use href="#mq" x="479.7" y="255.6"/>
<use href="#mq" x="496.4" y="258.2"/>
<use href="#mq" x="474.5" y="260.6"/>
<use href="#mq" x="470.4" y="261.6"/>
<use href="#mq" x="508.8" y="227.5"/>
<use href="#mq" x="510.7" y="229.7"/>
<use href="#mq" x="494.1" y="227.4"/>
<use href="#mq" x="494.7" y="231.4"/>
<use href="#mv" x="384.4" y="338"/>
<use href="#mv" x="405.9" y="338"/>
<use href="#mv" x="413.5" y="326.1"/>
<use href="#mv" x="413.2" y="318.5"/>
<use href="#mv" x="404.7" y="316.8"/>
<use href="#mv" x="398.4" y="313.3"/>
<use href="#mv" x="410.8" y="313.8"/>
<use href="#mv" x="414.6" y="314"/>
<use href="#mv" x="426.7" y="318.5"/>
<use href="#mv" x="444.6" y="317.9"/>
<use href="#mv" x="444.9" y="321.8"/>
<use href="#mv" x="411.5" y="276.4"/>
<use href="#mv" x="406.7" y="303.3"/>
<use href="#mv" x="407.7" y="311.4"/>
<use href="#mv" x="415.9" y="310.5"/>
<use href="#mv" x="404.4" y="315.5"/>
<use href="#mv" x="418" y="304.5"/>
<use href="#mv" x="421.8" y="305.7"/>
<use href="#mv" x="422.7" y="302.6"/>
<use href="#mv" x="423" y="307.6"/>
<use href="#mv" x="426.2" y="294.7"/>
<use href="#mv" x="425.9" y="298.2"/>
<use href="#mv" x="429" y="295"/>
<use href="#mv" x="430.6" y="292.5"/>
<use href="#mv" x="431.6" y="298.2"/>
<use href="#mv" x="430" y="301.3"/>
<use href="#mv" x="428.1" y="305.1"/>
<use href="#mv" x="428.5" y="311.4"/>
<use href="#mv" x="431.8" y="310.1"/>
<use href="#mv" x="435" y="295"/>
<use href="#mv" x="439.1" y="295"/>
<use href="#mv" x="438.8" y="298.8"/>
<use href="#mv" x="436.9" y="300.1"/>
<use href="#mv" x="438.1" y="304.5"/>
<use href="#mv" x="443.5" y="293.8"/>
<use href="#mv" x="443.5" y="298.2"/>
<use href="#mv" x="446.3" y="301.3"/>
<use href="#mv" x="436.9" y="277.8"/>
<use href="#mv" x="442.8" y="286.6"/>
<use href="#mv" x="444.8" y="283.7"/>
<use href="#mv" x="446.9" y="290.6"/>
<use href="#mv" x="450.1" y="281"/>
<use href="#mv" x="453.2" y="290"/>
<use href="#mv" x="455.7" y="291.9"/>
<use href="#mv" x="457.6" y="284.1"/>
<use href="#mv" x="459.5" y="285"/>
<use href="#mv" x="460.8" y="287.5"/>
<use href="#mv" x="458.9" y="289.4"/>
<use href="#mv" x="455.7" y="276.2"/>
<use href="#mv" x="467.7" y="294.8"/>
<use href="#mv" x="470.2" y="286.6"/>
<use href="#mv" x="463.9" y="279.1"/>
<use href="#mv" x="469.6" y="280.3"/>
<use href="#mv" x="473.6" y="282.1"/>
<use href="#mv" x="472.7" y="278.7"/>
<use href="#mv" x="473.4" y="276.2"/>
<use href="#mv" x="475.9" y="275.8"/>
<use href="#mv" x="464.6" y="273.7"/>
<use href="#mv" x="458.9" y="269.9"/>
<use href="#mv" x="460.8" y="272.4"/>
<use href="#mv" x="467.1" y="271.1"/>
<use href="#mv" x="476.5" y="271.1"/>
<use href="#mv" x="479.6" y="269"/>
<use href="#mv" x="450.4" y="251.6"/>
<use href="#mv" x="450.4" y="259.1"/>
<use href="#mv" x="454.8" y="266.7"/>
<use href="#mv" x="465.2" y="259.1"/>
<use href="#mv" x="470.8" y="245"/>
<use href="#mv" x="472.5" y="250.7"/>
<use href="#mv" x="472.7" y="254.5"/>
<use href="#mv" x="473" y="258.2"/>
<use href="#mv" x="475.2" y="259.1"/>
<use href="#mv" x="471.4" y="262.9"/>
<use href="#mv" x="468.3" y="265.4"/>
<use href="#mv" x="465.2" y="267.9"/>
<use href="#mv" x="479.4" y="230.2"/>
<use href="#mv" x="482.5" y="239.6"/>
<use href="#mv" x="482.8" y="249.4"/>
<use href="#mv" x="479" y="260.4"/>
<use href="#mv" x="480.9" y="259.7"/>
<use href="#mv" x="490.9" y="257.6"/>
<use href="#mv" x="491.6" y="261.4"/>
<use href="#mv" x="492.8" y="254.1"/>
<use href="#mv" x="493.5" y="248.8"/>
<use href="#mv" x="496.9" y="262.3"/>
<use href="#mv" x="496.6" y="240.9"/>
<use href="#mv" x="502.6" y="259.1"/>
<use href="#mv" x="502.3" y="235.2"/>
<use href="#mv" x="504.5" y="240.6"/>
<use href="#mv" x="504.2" y="243.4"/>
<use href="#mv" x="510.8" y="231.8"/>
<use href="#mv" x="515.5" y="239"/>
<use href="#mv" x="504.2" y="223.3"/>
<use href="#mv" x="504.4" y="226.4"/>
<use href="#mv" x="508.9" y="223.5"/>
<use href="#mv" x="511.1" y="225.5"/>
<use href="#mv" x="545.7" y="182"/>
<use href="#mv" x="545.7" y="187.3"/>
<use href="#mv" x="552.3" y="190.5"/>
<use href="#mv" x="547" y="194.9"/>
<use href="#mv" x="531.9" y="188.6"/>
<use href="#mv" x="531" y="192.4"/>
<use href="#mv" x="536.3" y="198.4"/>
<use href="#mv" x="537.8" y="199.3"/>
<use href="#mv" x="536.3" y="205.6"/>
<use href="#mv" x="537.9" y="205.9"/>
<use href="#mv" x="522.5" y="210"/>
<use href="#mv" x="522.2" y="215"/>
<use href="#mv" x="523.5" y="218.8"/>
<use href="#mv" x="510.8" y="214.4"/>
<use href="#mv" x="509.3" y="216.9"/>
<use href="#mv" x="513.9" y="221"/>
<use href="#mv" x="498.2" y="219.6"/>
<use href="#mv" x="571.5" y="164.2"/>
<use href="#mv" x="632.5" y="117.6"/>
<use href="#mv" x="577.6" y="186.9"/>
<use href="#mv" x="589" y="184.7"/>
<use href="#mv" x="623.4" y="189.1"/>
<use href="#mv" x="538.9" y="261.8"/>
<use href="#mv" x="483.8" y="276.7"/>
<use href="#mv" x="489.2" y="280.9"/>
<use href="#mv" x="502.2" y="286.9"/>
<use href="#mv" x="455.1" y="274"/>
<use href="#mv" x="503" y="224.9"/>
<use href="#mv" x="505.2" y="225.3"/>
<use href="#mv" x="505" y="227.6"/>
<use href="#mv" x="510.4" y="223.2"/>
<use href="#mv" x="509.5" y="225.2"/>
<use href="#mv" x="508" y="222.9"/>
<use href="#mo" x="468.7" y="273.8"/>
<use href="#mo" x="546.8" y="205.2"/>
<line x1="374.02" y1="361.85" x2="688.18" y2="65.95" stroke="#1a1a1a" stroke-width="1.05" />
<line x1="374.02" y1="349.75" x2="688.18" y2="24.25" stroke="#111" stroke-width="1.0" stroke-dasharray="2.8 1.3"/>
<line x1="374.02" y1="373.95" x2="688.18" y2="107.64" stroke="#111" stroke-width="1.0" stroke-dasharray="2.8 1.3"/>
</g>
<rect x="376.7" y="69.55" width="307.5" height="289.85" fill="none" stroke="#262626" stroke-width="0.9"/>
<rect x="492.3" y="74.4" width="77.0" height="42.9" rx="1.6" fill="#ffffff" fill-opacity="0.8" stroke="#cccccc" stroke-opacity="0.8" stroke-width="0.7"/>
<use href="#mq" x="505.1" y="81.3"/><use href="#mv" x="505.1" y="94.9"/><use href="#mo" x="505.1" y="108.5"/>
<text x="522" y="85" font-size="9.1" text-anchor="start" fill="#262626" >Test split</text>
<text x="522" y="98.4" font-size="9.1" text-anchor="start" fill="#262626" >CASMI 16</text>
<text x="522" y="111.9" font-size="9.1" text-anchor="start" fill="#262626" >CASMI 22</text>
<line x1="388.3" y1="359.4" x2="388.3" y2="362.4" stroke="#262626" stroke-width="0.8" />
<text x="388.3" y="369.75" font-size="7.4" text-anchor="middle" fill="#262626" >100</text>
<line x1="373.7" y1="348.4" x2="376.7" y2="348.4" stroke="#262626" stroke-width="0.7" />
<text x="372.1" y="351.2" font-size="7.4" text-anchor="end" fill="#262626" >100</text>
<line x1="424" y1="359.4" x2="424" y2="362.4" stroke="#262626" stroke-width="0.8" />
<text x="424" y="369.75" font-size="7.4" text-anchor="middle" fill="#262626" >125</text>
<line x1="373.7" y1="314.77" x2="376.7" y2="314.77" stroke="#262626" stroke-width="0.7" />
<text x="372.1" y="317.57" font-size="7.4" text-anchor="end" fill="#262626" >125</text>
<line x1="459.7" y1="359.4" x2="459.7" y2="362.4" stroke="#262626" stroke-width="0.8" />
<text x="459.7" y="369.75" font-size="7.4" text-anchor="middle" fill="#262626" >150</text>
<line x1="373.7" y1="281.15" x2="376.7" y2="281.15" stroke="#262626" stroke-width="0.7" />
<text x="372.1" y="283.95" font-size="7.4" text-anchor="end" fill="#262626" >150</text>
<line x1="495.4" y1="359.4" x2="495.4" y2="362.4" stroke="#262626" stroke-width="0.8" />
<text x="495.4" y="369.75" font-size="7.4" text-anchor="middle" fill="#262626" >175</text>
<line x1="373.7" y1="247.52" x2="376.7" y2="247.52" stroke="#262626" stroke-width="0.7" />
<text x="372.1" y="250.32" font-size="7.4" text-anchor="end" fill="#262626" >175</text>
<line x1="531.1" y1="359.4" x2="531.1" y2="362.4" stroke="#262626" stroke-width="0.8" />
<text x="531.1" y="369.75" font-size="7.4" text-anchor="middle" fill="#262626" >200</text>
<line x1="373.7" y1="213.9" x2="376.7" y2="213.9" stroke="#262626" stroke-width="0.7" />
<text x="372.1" y="216.7" font-size="7.4" text-anchor="end" fill="#262626" >200</text>
<line x1="566.8" y1="359.4" x2="566.8" y2="362.4" stroke="#262626" stroke-width="0.8" />
<text x="566.8" y="369.75" font-size="7.4" text-anchor="middle" fill="#262626" >225</text>
<line x1="373.7" y1="180.27" x2="376.7" y2="180.27" stroke="#262626" stroke-width="0.7" />
<text x="372.1" y="183.07" font-size="7.4" text-anchor="end" fill="#262626" >225</text>
<line x1="602.5" y1="359.4" x2="602.5" y2="362.4" stroke="#262626" stroke-width="0.8" />
<text x="602.5" y="369.75" font-size="7.4" text-anchor="middle" fill="#262626" >250</text>
<line x1="373.7" y1="146.65" x2="376.7" y2="146.65" stroke="#262626" stroke-width="0.7" />
<text x="372.1" y="149.45" font-size="7.4" text-anchor="end" fill="#262626" >250</text>
<line x1="638.2" y1="359.4" x2="638.2" y2="362.4" stroke="#262626" stroke-width="0.8" />
<text x="638.2" y="369.75" font-size="7.4" text-anchor="middle" fill="#262626" >275</text>
<line x1="373.7" y1="113.02" x2="376.7" y2="113.02" stroke="#262626" stroke-width="0.7" />
<text x="372.1" y="115.82" font-size="7.4" text-anchor="end" fill="#262626" >275</text>
<line x1="673.9" y1="359.4" x2="673.9" y2="362.4" stroke="#262626" stroke-width="0.8" />
<text x="673.9" y="369.75" font-size="7.4" text-anchor="middle" fill="#262626" >300</text>
<line x1="373.7" y1="79.4" x2="376.7" y2="79.4" stroke="#262626" stroke-width="0.7" />
<text x="372.1" y="82.2" font-size="7.4" text-anchor="end" fill="#262626" >300</text>
<text x="530.45" y="379.6" font-size="9.17" text-anchor="middle" fill="#262626" >Observed CCS</text>
<text transform="translate(354.6,214.47) rotate(-90)" font-size="9.17" text-anchor="middle" fill="#262626">Predicted CCS</text>
<text x="341.3" y="7.1" font-size="8.2" text-anchor="start" fill="#000" font-weight="bold">b)</text>
</g>
</svg>
</body></html>
